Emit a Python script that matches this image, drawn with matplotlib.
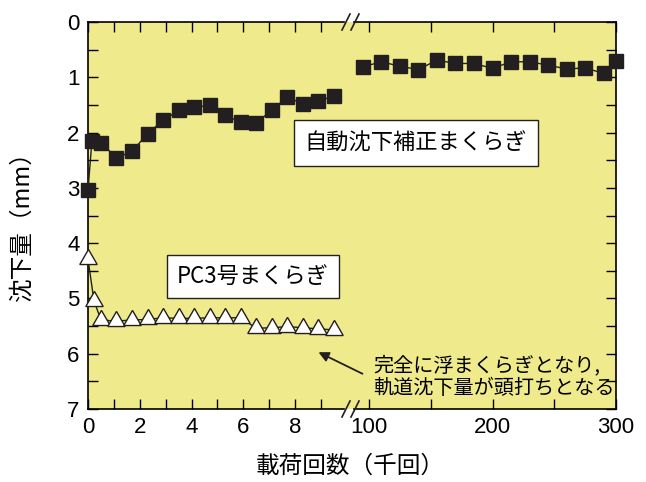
import matplotlib
matplotlib.use("Agg")
import matplotlib.pyplot as plt
from matplotlib import font_manager
from matplotlib.lines import Line2D

# --- data ---
sq_x_left = [0, 0.15, 0.5, 1.1, 1.7, 2.3, 2.9, 3.5, 4.1, 4.7, 5.3, 5.9, 6.5, 7.1, 7.7, 8.3, 8.9, 9.5]
sq_y_left = [3.04, 2.16, 2.18, 2.46, 2.34, 2.02, 1.78, 1.60, 1.54, 1.51, 1.69, 1.81, 1.83, 1.59, 1.36, 1.48, 1.43, 1.34]

sq_x_right = [95, 110, 125, 140, 155, 170, 185, 200, 215, 230, 245, 260, 275, 290, 300]
sq_y_right = [0.81, 0.72, 0.80, 0.86, 0.69, 0.75, 0.75, 0.84, 0.72, 0.72, 0.78, 0.85, 0.83, 0.93, 0.70]

tri_x = [0, 0.23, 0.5, 1.1, 1.7, 2.3, 2.9, 3.5, 4.1, 4.7, 5.3, 5.9, 6.5, 7.1, 7.7, 8.3, 8.9, 9.5]
tri_y = [4.29, 5.04, 5.39, 5.41, 5.39, 5.38, 5.35, 5.36, 5.36, 5.35, 5.35, 5.35, 5.54, 5.53, 5.51, 5.53, 5.55, 5.57]

xticks_left = [0, 2, 4, 6, 8]
xticks_right = [100, 200, 300]
yticks = [0, 1, 2, 3, 4, 5, 6, 7]

label_auto = "自動沈下補正まくらぎ"
label_pc = "PC3号まくらぎ"
note = "完全に浮まくらぎとなり,\n軌道沈下量が頭打ちとなる"
xlabel = "載荷回数（千回）"
ylabel = "沈下量（mm）"

# --- fonts ---
def have(name):
    try:
        font_manager.findfont(name, fallback_to_default=False)
        return True
    except Exception:
        return False

num_fonts = [f for f in ["Liberation Sans Narrow", "Liberation Sans"] if have(f)]
cjk = ["Noto Sans CJK JP", "DejaVu Sans"]
plt.rcParams["font.family"] = num_fonts[:1] + cjk

yellow = "#EFEB8C"
ink = "#231F20"

W, H = 646, 482
fig = plt.figure(figsize=(W / 100, H / 100), dpi=100)

x0, xb, x1 = 88, 350, 616
ytop, ybot = 22, 409
axL = fig.add_axes([x0 / W, 1 - ybot / H, (xb - x0) / W, (ybot - ytop) / H])
axR = fig.add_axes([xb / W, 1 - ybot / H, (x1 - xb) / W, (ybot - ytop) / H])

for ax in (axL, axR):
    ax.set_facecolor(yellow)
    ax.set_ylim(7, 0)
    ax.set_yticks(yticks)
    ax.set_yticks([v + 0.5 for v in yticks[:-1]], minor=True)
    ax.tick_params(which="both", direction="in", length=7, width=1,
                   labelsize=16, top=True, bottom=True, pad=6)
    for s in ax.spines.values():
        s.set_linewidth(1.2)

axL.set_xlim(0, 10.12)
axL.set_xticks(xticks_left)
axL.set_xticks([1, 3, 5, 7, 9], minor=True)
axL.tick_params(which="both", left=True, right=False)
axL.spines["right"].set_visible(False)
axL.spines["top"].set_bounds(0, 9.9)
axL.spines["bottom"].set_bounds(0, 9.9)

axR.set_xlim(84.6, 300)
axR.set_xticks(xticks_right)
axR.set_xticks([150, 250], minor=True)
axR.tick_params(which="both", left=False, right=True, labelleft=False)
axR.spines["left"].set_visible(False)
axR.spines["top"].set_bounds(88, 300)
axR.spines["bottom"].set_bounds(88, 300)

# series
axL.plot(sq_x_left, sq_y_left, color=ink, lw=1, marker="s", ms=10.5,
         mfc=ink, mec=ink, clip_on=False, zorder=3)
axR.plot(sq_x_right, sq_y_right, color=ink, lw=1, marker="s", ms=10.5,
         mfc=ink, mec=ink, clip_on=False, zorder=3)
axL.plot(tri_x, tri_y, color=ink, lw=1, marker=(3, 0, 0), ms=14.5,
         mfc="white", mec=ink, mew=1, clip_on=False, zorder=3)

# axis labels
fig.text(350 / W, 1 - 466 / H, xlabel, ha="center", va="center", fontsize=17,
         family=cjk)
fig.text(22 / W, 1 - 220 / H, ylabel, ha="center", va="center", fontsize=17,
         rotation=90, family=cjk)

# boxed labels
fig.text(416 / W, 1 - 143 / H, label_auto, ha="center", va="center",
         fontsize=16, family=cjk,
         bbox=dict(boxstyle="square,pad=0.5", fc="white", ec=ink, lw=1))
fig.text(253 / W, 1 - 276 / H, label_pc, ha="center", va="center",
         fontsize=16, family=cjk,
         bbox=dict(boxstyle="square,pad=0.45", fc="white", ec=ink, lw=1))

# note with arrow
fig.text(373 / W, 1 - 377 / H, note, ha="left", va="center", fontsize=14.5,
         family=cjk, linespacing=1.15)
fig.add_artist(matplotlib.patches.FancyArrowPatch(
    (365 / W, 1 - 375 / H), (316 / W, 1 - 351 / H),
    transform=fig.transFigure, arrowstyle="-|>,head_length=6,head_width=3",
    color=ink, lw=1.3))

# break marks
for py in (ytop, ybot):
    for cx in (346, 355):
        fig.add_artist(Line2D([(cx - 4) / W, (cx + 4) / W],
                              [1 - (py + 8) / H, 1 - (py - 8) / H],
                              transform=fig.transFigure, color=ink, lw=1.2))

fig.savefig("out.png", dpi=100)
